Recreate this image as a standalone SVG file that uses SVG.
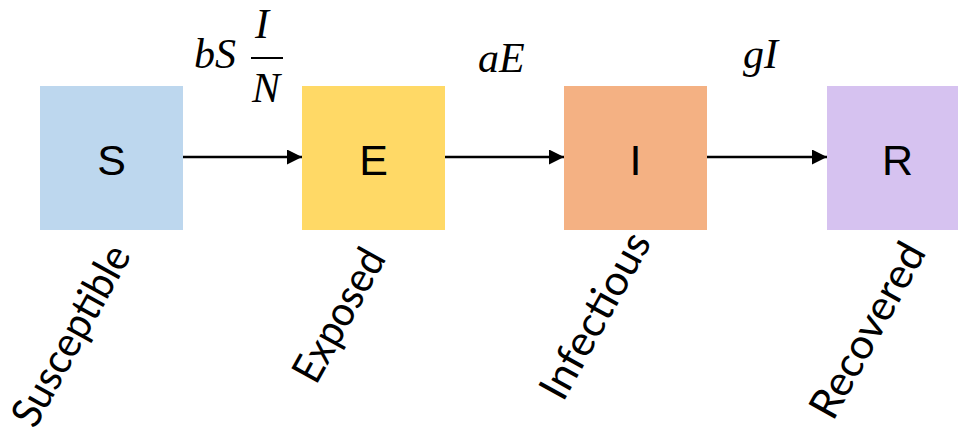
<svg xmlns="http://www.w3.org/2000/svg" width="958" height="436" viewBox="0 0 958 436">
  <defs>
    <marker id="arrow" viewBox="0 0 10 10" refX="10" refY="5" markerWidth="6" markerHeight="6" markerUnits="strokeWidth" orient="auto">
      <path d="M0,0 L10,5 L0,10 Z" fill="#000"/>
    </marker>
    <style>
      .box-label { font-family: "Liberation Sans", Arial, sans-serif; font-size: 43px; fill: #000; text-anchor: middle; }
      .state-name { font-family: Lato, "Open Sans", sans-serif; font-size: 42px; fill: #000; }
      .math { font-family: "Liberation Serif", "DejaVu Serif", serif; font-style: italic; font-size: 42px; fill: #000; }
      .link { stroke: #000; stroke-width: 2.5; fill: none; marker-end: url(#arrow); }
    </style>
  </defs>
  <rect width="958" height="436" fill="#fff"/>

  <!-- compartments -->
  <g id="node-S">
    <rect x="40" y="86" width="143" height="144" fill="#BDD7EE"/>
    <text class="box-label" x="111.5" y="175">S</text>
    <text class="state-name" transform="translate(35,430) rotate(-61)" textLength="200" lengthAdjust="spacingAndGlyphs">Susceptible</text>
  </g>
  <g id="node-E">
    <rect x="302" y="86" width="143" height="144" fill="#FFD966"/>
    <text class="box-label" x="373.5" y="175">E</text>
    <text class="state-name" transform="translate(316,386) rotate(-61)" textLength="146" lengthAdjust="spacingAndGlyphs">Exposed</text>
  </g>
  <g id="node-I">
    <rect x="564" y="86" width="143" height="144" fill="#F4B183"/>
    <text class="box-label" x="635.5" y="175">I</text>
    <text class="state-name" transform="translate(563,403) rotate(-61)" textLength="184" lengthAdjust="spacingAndGlyphs">Infectious</text>
  </g>
  <g id="node-R">
    <rect x="827" y="86" width="143" height="144" fill="#D6C2F0"/>
    <text class="box-label" x="897.5" y="175">R</text>
    <text class="state-name" transform="translate(833,422) rotate(-61)" textLength="194" lengthAdjust="spacingAndGlyphs">Recovered</text>
  </g>

  <!-- transitions -->
  <g id="connectors">
    <line class="link" x1="183" y1="157" x2="302" y2="157"/>
    <line class="link" x1="445" y1="157" x2="564" y2="157"/>
    <line class="link" x1="707" y1="157" x2="827" y2="157"/>
  </g>

  <!-- rate expressions -->
  <g id="rates">
    <text class="math" x="194" y="68">bS</text>
    <text class="math" x="262" y="38" text-anchor="middle">I</text>
    <line x1="251" y1="58" x2="283" y2="58" stroke="#000" stroke-width="2"/>
    <text class="math" x="266" y="102" text-anchor="middle">N</text>
    <text class="math" x="478" y="72">aE</text>
    <text class="math" x="743" y="68">gI</text>
  </g>
</svg>
